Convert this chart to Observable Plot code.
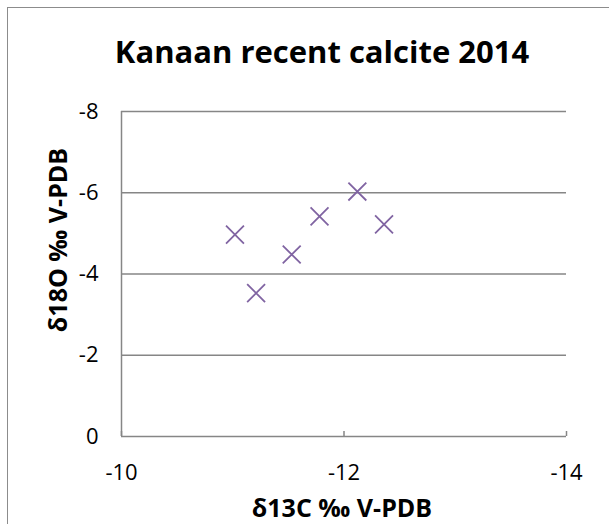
<!DOCTYPE html>
<html>
<head>
<meta charset="utf-8">
<script src="https://cdn.jsdelivr.net/npm/d3@7"></script>
<script src="https://cdn.jsdelivr.net/npm/@observablehq/plot@0.6"></script>
<style>
  html, body { margin: 0; padding: 0; background: #fff; }
  #wrap { position: relative; width: 609px; height: 524px; overflow: hidden; }
  #border { position: absolute; left: 7px; top: 7px; width: 640px; height: 560px; border: 1.5px solid #8c8c8c; box-sizing: border-box; }
  #chart { position: absolute; left: 0; top: 0; }
</style>
</head>
<body>
<div id="wrap"><div id="border"></div><div id="chart"></div></div>
<script>
const title = "Kanaan recent calcite 2014";
const xLabel = "δ13C ‰ V-PDB";
const yLabel = "δ18O ‰ V-PDB";
const d13C = [-11.02, -11.21, -11.53, -11.78, -12.12, -12.36];
const d18O = [-4.97, -3.53, -4.48, -5.42, -6.03, -5.22];
const xTicks = [-10, -12, -14];
const yTicks = [0, -2, -4, -6, -8];
const gridY = [-2, -4, -6, -8];

const data = d13C.map((x, i) => ({x, y: d18O[i]}));
const font = "'Open Sans', Lato, sans-serif";
const gray = "#868686";

const chart = Plot.plot({
  width: 609,
  height: 524,
  marginLeft: 121,
  marginRight: 43,
  marginTop: 111,
  marginBottom: 88,
  style: {fontFamily: font, fontSize: "22px", color: "#000", background: "transparent"},
  x: {domain: [-10, -14], ticks: xTicks},
  y: {domain: [0, -8], ticks: yTicks},
  marks: [
    Plot.ruleY(gridY, {stroke: gray, strokeWidth: 1.5}),
    Plot.ruleY([0], {stroke: gray, strokeWidth: 1.5}),
    Plot.ruleX([-10], {stroke: gray, strokeWidth: 1.5}),
    Plot.axisX({ticks: xTicks, tickSize: -5, tickFormat: () => "", stroke: gray, strokeWidth: 1.5, label: null}),
    Plot.axisX({ticks: xTicks, tickSize: 0, tickPadding: 28, tickFormat: d => d, fontSize: 22, label: null}),
    Plot.axisY({ticks: yTicks, tickSize: 0, tickPadding: 23, tickFormat: d => d, fontSize: 22, label: null}),
    Plot.text([xLabel], {frameAnchor: "bottom", lineAnchor: "middle", textAnchor: "middle", dy: 72, dx: -2, text: d => d, fontWeight: "bold", fontSize: 25}),
    Plot.text([yLabel], {frameAnchor: "left", lineAnchor: "middle", textAnchor: "middle", dx: -63, dy: -34, rotate: -90, text: d => d, fontWeight: "bold", fontSize: 25}),
    Plot.text([title], {frameAnchor: "top", lineAnchor: "middle", textAnchor: "middle", dy: -58, text: d => d, fontWeight: "bold", fontSize: 31, dx: -22}),
    Plot.dot(data, {x: "x", y: "y", symbol: "times", r: 8.2, stroke: "#8064A2", strokeWidth: 1.8})
  ]
});
document.getElementById("chart").appendChild(chart);
</script>
</body>
</html>
